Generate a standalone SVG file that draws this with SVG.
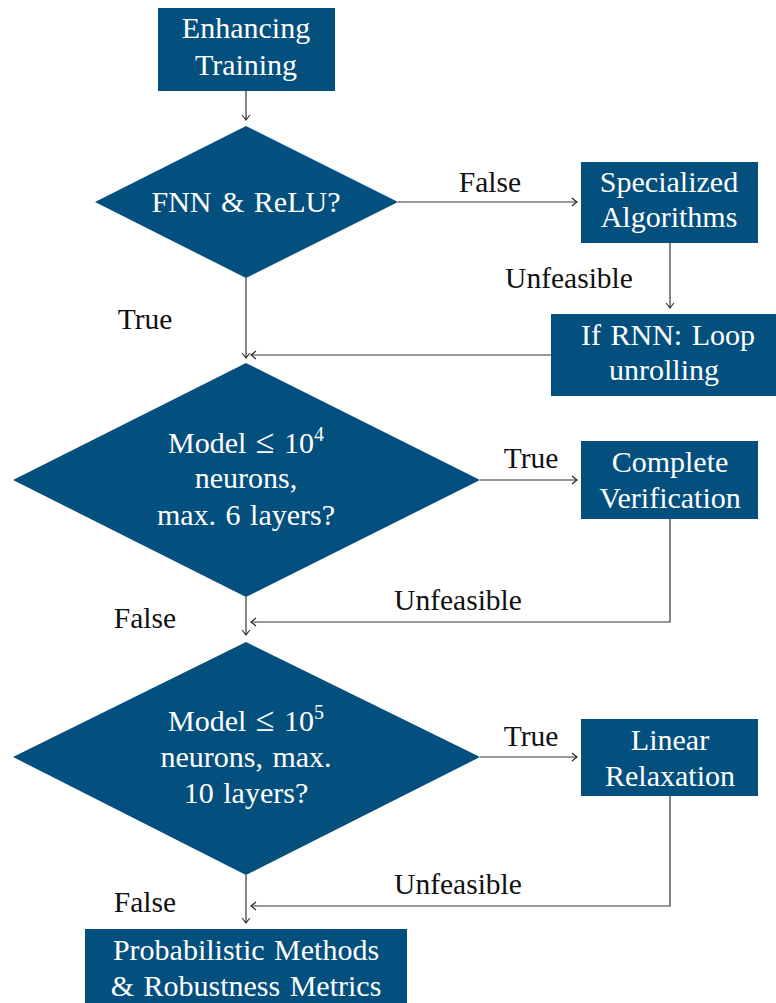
<svg xmlns="http://www.w3.org/2000/svg" width="776" height="1003" viewBox="0 0 776 1003">
<defs>
<style>
.box{fill:#034f7e;}
.nt{fill:#ffffff;font-family:"Liberation Serif","DejaVu Serif",serif;font-size:30px;text-anchor:middle;word-spacing:2px;}
.lb{fill:#111111;font-family:"Liberation Serif","DejaVu Serif",serif;font-size:29.5px;text-anchor:middle;}
.cn{fill:none;stroke:#333333;stroke-width:1.2;}
.le{font-size:34px;}
.sup{font-size:20px;}
</style>
<marker id="ah" markerUnits="userSpaceOnUse" markerWidth="12" markerHeight="12" viewBox="-8 -6 10 12" refX="0" refY="0" orient="auto">
<path d="M -5 -4 Q -1.5 -1 0 0 Q -1.5 1 -5 4" fill="none" stroke="#222222" stroke-width="1.1"/>
</marker>
</defs>
<rect width="776" height="1003" fill="#ffffff"/>

<g id="connectors">
<path class="cn" d="M 246 91 L 246 120" marker-end="url(#ah)"/>
<path class="cn" d="M 398 202 L 577 202" marker-end="url(#ah)"/>
<path class="cn" d="M 670 243 L 670 308" marker-end="url(#ah)"/>
<path class="cn" d="M 246 278 L 246 358" marker-end="url(#ah)"/>
<path class="cn" d="M 551 355 L 251 355" marker-end="url(#ah)"/>
<path class="cn" d="M 480 480 L 577 480" marker-end="url(#ah)"/>
<path class="cn" d="M 670 519 L 670 622 L 251 622" marker-end="url(#ah)"/>
<path class="cn" d="M 246 597 L 246 635" marker-end="url(#ah)"/>
<path class="cn" d="M 480 757 L 577 757" marker-end="url(#ah)"/>
<path class="cn" d="M 670 796 L 670 906 L 251 906" marker-end="url(#ah)"/>
<path class="cn" d="M 246 875 L 246 923" marker-end="url(#ah)"/>
</g>

<g id="labels">
<text class="lb" x="490" y="192">False</text>
<text class="lb" x="569" y="288">Unfeasible</text>
<text class="lb" x="145" y="329">True</text>
<text class="lb" x="531" y="468">True</text>
<text class="lb" x="458" y="610">Unfeasible</text>
<text class="lb" x="145" y="628">False</text>
<text class="lb" x="531" y="746">True</text>
<text class="lb" x="458" y="894">Unfeasible</text>
<text class="lb" x="145" y="912">False</text>
</g>

<g id="n-enhancing">
<rect class="box" x="158" y="8" width="177" height="83"/>
<text class="nt" x="246" y="38">Enhancing</text>
<text class="nt" x="246" y="75">Training</text>
</g>

<g id="n-fnn">
<polygon class="box" points="246,126 398,202 246,278 95,202"/>
<text class="nt" x="246" y="212">FNN &amp; ReLU?</text>
</g>

<g id="n-specialized">
<rect class="box" x="581" y="162" width="177" height="81"/>
<text class="nt" x="669" y="192">Specialized</text>
<text class="nt" x="669" y="227">Algorithms</text>
</g>

<g id="n-rnn">
<rect class="box" x="551" y="314" width="230" height="82"/>
<text class="nt" x="668" y="345">If RNN: Loop</text>
<text class="nt" x="664" y="380">unrolling</text>
</g>

<g id="n-model4">
<polygon class="box" points="246,363 480,480 246,597 13,480"/>
<text class="nt" x="246" y="453">Model <tspan class="le">≤</tspan> 10<tspan class="sup" dy="-12">4</tspan></text>
<text class="nt" x="246" y="488">neurons,</text>
<text class="nt" x="246" y="525">max. 6 layers?</text>
</g>

<g id="n-complete">
<rect class="box" x="581" y="441" width="177" height="78"/>
<text class="nt" x="670" y="472">Complete</text>
<text class="nt" x="670" y="508">Verification</text>
</g>

<g id="n-model5">
<polygon class="box" points="246,642 480,757 246,875 13,757"/>
<text class="nt" x="246" y="731">Model <tspan class="le">≤</tspan> 10<tspan class="sup" dy="-12">5</tspan></text>
<text class="nt" x="246" y="767">neurons, max.</text>
<text class="nt" x="246" y="803">10 layers?</text>
</g>

<g id="n-linear">
<rect class="box" x="581" y="719" width="177" height="77"/>
<text class="nt" x="670" y="750">Linear</text>
<text class="nt" x="670" y="786">Relaxation</text>
</g>

<g id="n-prob">
<rect class="box" x="85" y="929" width="322" height="80"/>
<text class="nt" x="246" y="960">Probabilistic Methods</text>
<text class="nt" x="246" y="996">&amp; Robustness Metrics</text>
</g>
</svg>
